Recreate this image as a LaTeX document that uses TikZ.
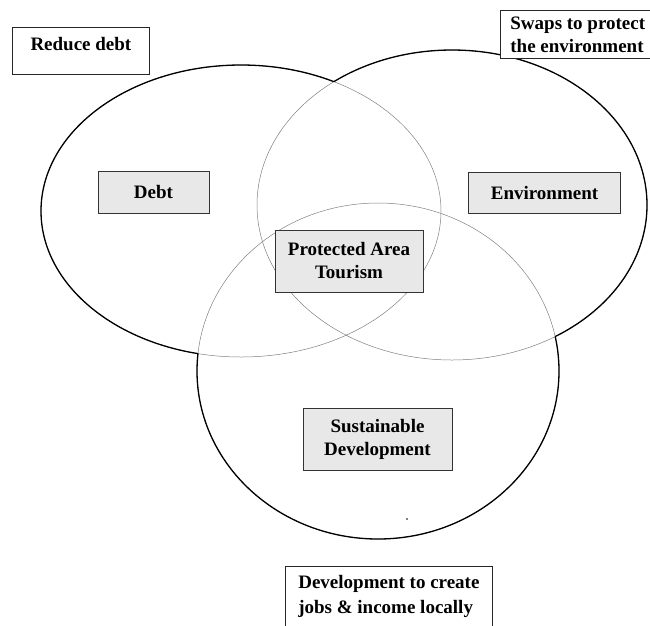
\documentclass[tikz,border=0pt]{standalone}
\usepackage{fontspec}
\setmainfont{Liberation Serif}
\tikzset{
  ringthin/.style={draw=black!50, line width=0.5pt},
  ringthick/.style={draw=black, line width=1.3pt},
  labelbox/.style={draw=black!80, line width=1pt, fill=black!9, inner sep=0pt, align=center},
  notebox/.style={draw=black!85, line width=0.8pt, fill=white, inner sep=0pt, align=left},
}
\newcommand{\ringdebt}{(241,211) ellipse [x radius=200pt, y radius=146pt]}
\newcommand{\ringenv}{(452,205) ellipse [x radius=195pt, y radius=155pt]}
\newcommand{\ringdev}{(378,371) ellipse [x radius=181pt, y radius=168pt]}
\newcommand{\pagerect}{(-20,-20) rectangle (670,645)}
\begin{document}
\begin{tikzpicture}[x=1pt, y=-1pt, font=\fontsize{19}{23}\selectfont\bfseries]
  \useasboundingbox (0,0) rectangle (650,625);
  % the three circles, thin inside the overlaps
  \draw[ringthin] \ringdebt;
  \draw[ringthin] \ringenv;
  \draw[ringthin] \ringdev;
  % thick where no other circle lies over them
  \begin{scope}[even odd rule]
    \clip \pagerect \ringenv;
    \clip \pagerect \ringdev;
    \draw[ringthick] \ringdebt;
  \end{scope}
  \begin{scope}[even odd rule]
    \clip \pagerect \ringdebt;
    \clip \pagerect \ringdev;
    \draw[ringthick] \ringenv;
  \end{scope}
  \begin{scope}[even odd rule]
    \clip \pagerect \ringdebt;
    \clip \pagerect \ringenv;
    \draw[ringthick] \ringdev;
  \end{scope}
  \fill (407,519) circle (0.8pt);
  % labels in the circles
  \node[labelbox, minimum width=111pt, minimum height=42pt] (debt) at (153.5,192) {Debt};
  \node[labelbox, minimum width=152pt, minimum height=41pt] (env) at (544.5,193) {Environment};
  \node[labelbox, minimum width=148pt, minimum height=62pt] (tourism) at (349,261) {Protected Area\\Tourism};
  \node[labelbox, minimum width=149pt, minimum height=62pt] (sustain) at (377.5,439) {Sustainable\\Development};
  % notes outside
  \node[notebox, anchor=north west, minimum width=137pt, text height=23pt, text depth=24pt] (reduce) at (12,27) {Reduce debt};
  \node[notebox, anchor=north west, inner xsep=10pt, minimum height=48pt] (swaps) at (500,10) {Swaps to protect\\the environment};
  \node[notebox, anchor=north west, minimum width=207pt, minimum height=60pt] (jobs) at (285,566) {Development to create\\[2pt]jobs \& income locally};
\end{tikzpicture}
\end{document}
